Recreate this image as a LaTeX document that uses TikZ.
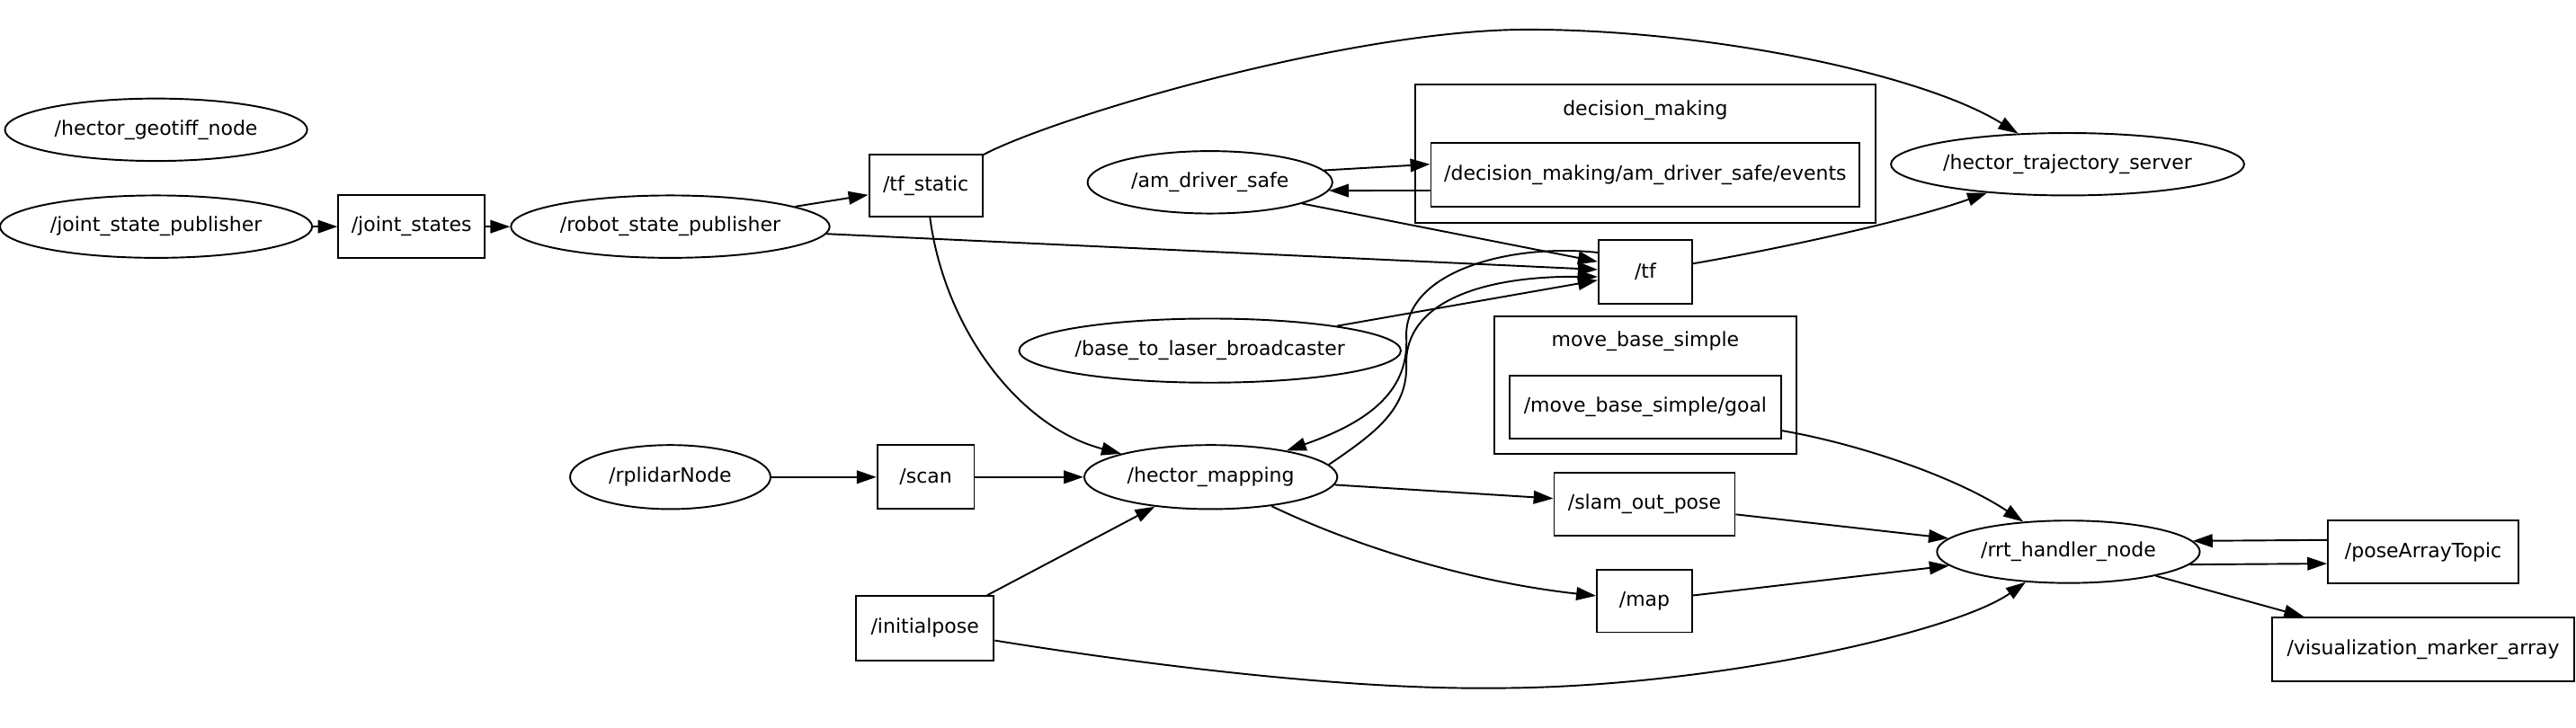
\documentclass[tikz,border=0pt]{standalone}
\usepackage{fontspec}
\setmainfont{DejaVu Sans}
\usetikzlibrary{arrows.meta,shapes.geometric,fit}
\tikzset{
  rosnode/.style={draw, ellipse, line width=0.6pt, inner sep=0pt,
              minimum height=7.6mm, font=\fontsize{6.85}{8}\selectfont},
  topic/.style={draw, rectangle, line width=0.6pt, inner sep=0pt,
              minimum height=7.6mm, font=\fontsize{6.85}{8}\selectfont},
  group/.style={draw, rectangle, line width=0.6pt, inner sep=1.8mm},
  grouptitle/.style={inner sep=0pt, font=\fontsize{6.85}{8}\selectfont},
  link/.style={-{Triangle[length=2.4mm,width=1.6mm]}, line width=0.6pt},
}
\begin{document}
\begin{tikzpicture}[x=0.2mm, y=-0.2mm]
        \fill[white] (0,0) rectangle (1568,443);
        \useasboundingbox (0,0) rectangle (1568,443);
        % ros nodes and topics
        \node[rosnode, minimum width=36.8mm] (geotiff) at (95,79)   {/hector\_geotiff\_node};
        \node[rosnode, minimum width=38mm]   (jsp)  at (95,138)     {/joint\_state\_publisher};
        \node[topic, minimum width=17.8mm]   (js)   at (250.5,138)  {/joint\_states};
        \node[rosnode, minimum width=38.8mm] (rsp)  at (408,138)    {/robot\_state\_publisher};
        \node[topic, minimum width=13.8mm]   (tfs)  at (563.5,113)  {/tf\_static};
        \node[rosnode, minimum width=29.8mm] (ads)  at (736.5,111)  {/am\_driver\_safe};
        \node[topic, minimum width=52.2mm, minimum height=7.8mm] (ev) at (1001.5,106.5)
              {/decision\_making/am\_driver\_safe/events};
        \node[rosnode, minimum width=43mm]   (hts)  at (1258.5,100) {/hector\_trajectory\_server};
        \node[topic, minimum width=11.4mm, minimum height=7.8mm] (tf) at (1001.5,165.5) {/tf};
        \node[rosnode, minimum width=46.2mm, minimum height=7.8mm] (btl) at (736.5,213.5)
              {/base\_to\_laser\_broadcaster};
        \node[topic, minimum width=33mm]     (goal) at (1001.5,248) {/move\_base\_simple/goal};
        \node[rosnode, minimum width=24.4mm, minimum height=7.8mm] (rpl) at (408,290.5) {/rplidarNode};
        \node[topic, minimum width=11.8mm, minimum height=7.8mm] (scan) at (563.5,290.5) {/scan};
        \node[rosnode, minimum width=30.8mm, minimum height=7.8mm] (hm) at (737,290.5) {/hector\_mapping};
        \node[topic, minimum width=22mm]     (sop)  at (1001,307)   {/slam\_out\_pose};
        \node[topic, minimum width=11.6mm]   (map)  at (1001,366)   {/map};
        \node[topic, minimum width=16.8mm, minimum height=7.8mm] (ip) at (563,382.5) {/initialpose};
        \node[rosnode, minimum width=32mm]   (rrt)  at (1259,336)   {/rrt\_handler\_node};
        \node[topic, minimum width=23.2mm]   (pat)  at (1475,336)   {/poseArrayTopic};
        \node[topic, minimum width=36.8mm, minimum height=7.8mm] (vma) at (1475,395.5)
              {/visualization\_marker\_array};
        % namespace groups
        \node[grouptitle] (dmtitle)  at (1001.5,67) {decision\_making};
        \node[grouptitle] (mbstitle) at (1001.5,208) {move\_base\_simple};
        \node[group, fit=(dmtitle)(ev)] (dm) {};
        \node[group, fit=(mbstitle)(goal)] (mbs) {};
        % connections
        \draw[link] (jsp) -- (js);
        \draw[link] (js) -- (rsp);
        \draw[link] (rsp) -- (tfs);
        \draw[link] (rsp) -- (tf);
        \draw[link] (tfs) .. controls (640,72) and (820,18) .. (930,18)
          .. controls (1040,18) and (1170,45) .. (hts);
        \draw[link] (tfs) .. controls (575,200) and (620,260) .. (hm);
        \draw[link] (ads.6) -- ([yshift=1.3mm]ev.west);
        \draw[link] ([yshift=-1.9mm]ev.west) -- (ads.-4);
        \draw[link] (ads.-13) -- (tf.168);
        \draw[link] (btl.11) -- (tf.190);
        \draw[link] (tf) .. controls (1080,152) and (1160,135) .. (hts);
        \draw[link] (tf.158) .. controls (920,148) and (855,165) .. (856,205)
          .. controls (858,240) and (830,258) .. (hm);
        \draw[link] (hm.6) .. controls (835,265) and (857,250) .. (856,222)
          .. controls (855,185) and (900,168) .. (tf.186);
        \draw[link] (rpl) -- (scan);
        \draw[link] (scan) -- (hm);
        \draw[link] (ip) -- (hm);
        \draw[link] (ip.-10) .. controls (680,402) and (810,420) .. (909,419)
          .. controls (1040,419) and (1190,385) .. (rrt);
        \draw[link] (hm) -- (sop);
        \draw[link] (hm) .. controls (830,335) and (900,355) .. (map);
        \draw[link] (sop) -- (rrt);
        \draw[link] (map) -- (rrt);
        \draw[link] (goal) .. controls (1130,270) and (1190,290) .. (rrt);
        \draw[link] (pat.173) -- (rrt.5);
        \draw[link] (rrt.-6) -- (pat.187);
        \draw[link] (rrt) -- (vma);
\end{tikzpicture}
\end{document}
